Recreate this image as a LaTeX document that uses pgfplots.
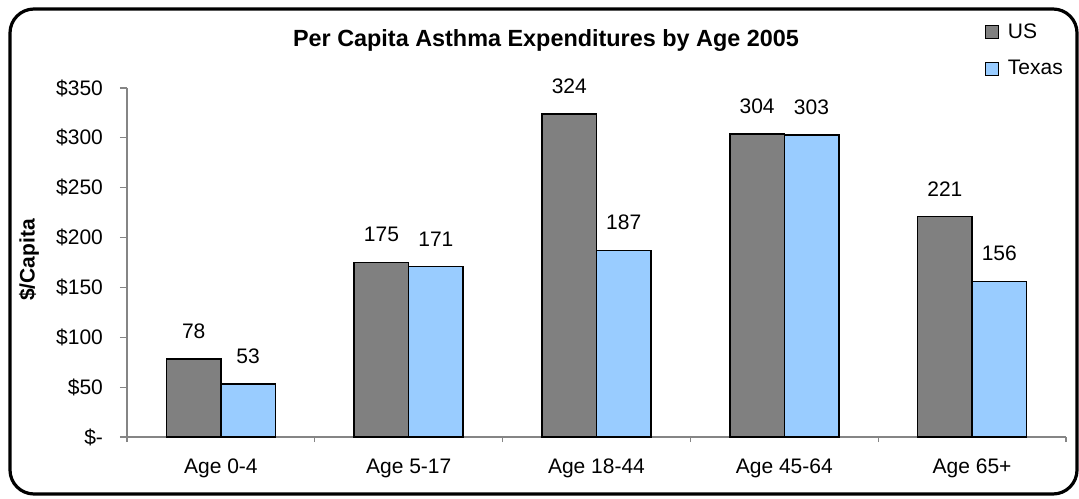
\documentclass[border=0pt]{standalone}
\usepackage{pgfplots}
\pgfplotsset{compat=1.18}
\usepackage{fontspec}
\setmainfont{Liberation Sans}

\definecolor{usgray}{HTML}{808080}
\definecolor{txblue}{HTML}{99CCFF}
\definecolor{axgray}{HTML}{858585}

\pgfplotstableread{
x us tx
0 78 53
1 175 171
2 324 187
3 304 303
4 221 156
}\expdata

\begin{document}
\begin{tikzpicture}
\useasboundingbox (-63.5pt,-30.5pt) rectangle (476pt,218.5pt);
\draw[line width=1.6pt, rounded corners=12pt] (-58.5pt,-28.5pt) rectangle (475pt,214pt);
\begin{axis}[
    at={(0pt,0pt)}, anchor=south west,
    scale only axis,
    width=469.5pt, height=174.5pt,
    xmin=-0.5, xmax=4.5,
    ymin=0, ymax=350,
    axis x line*=bottom,
    axis y line*=left,
    axis line style={draw=axgray, line width=0.6pt},
    tick style={draw=axgray, line width=0.6pt},
    tick align=outside,
    major tick length=3.5pt,
    minor tick length=2.5pt,
    xtick={0,1,2,3,4},
    xticklabels={Age 0-4, Age 5-17, Age 18-44, Age 45-64, Age 65+},
    minor xtick={-0.5,0.5,1.5,2.5,3.5,4.5},
    major x tick style={draw=none},
    ytick={0,50,...,350},
    yticklabels={\$-,\$50,\$100,\$150,\$200,\$250,\$300,\$350},
    /pgf/number format/assume math mode=true,
    ticklabel style={font=\fontsize{10.5}{12}\selectfont},
    xticklabel style={yshift=-4pt},
    yticklabel style={xshift=-5pt},
    ylabel={\$/Capita},
    ylabel style={at={(axis description cs:-0.1044,0.507)}, anchor=center,
        font=\fontsize{10.5}{12}\selectfont\bfseries},
    every node near coord/.append style={font=\fontsize{10.5}{12}\selectfont, yshift=6.5pt, color=black},
    legend style={draw=none, fill=none, at={(axis description cs:0.913,1.195)},
        anchor=north west, row sep=6.5pt, inner sep=0pt,
        font=\fontsize{10.5}{12}\selectfont,
        nodes={inner sep=1.5pt}},
    legend cell align=left,
]
\addplot[ybar, bar width=0.29, bar shift=-0.145, fill=usgray, draw=black, line width=0.75pt,
    nodes near coords,
    every node near coord/.append style={xshift=-13.6pt},
    legend image code/.code={\draw[fill=usgray, draw=black, line width=0.5pt] (0pt,-3.25pt) rectangle (6.5pt,3.25pt); \path (9.5pt,0pt);}]
    table[x=x, y=us] {\expdata};
\addlegendentry{US}
\addplot[ybar, bar width=0.29, bar shift=0.145, fill=txblue, draw=black, line width=0.75pt,
    nodes near coords,
    every node near coord/.append style={xshift=13.6pt},
    legend image code/.code={\draw[fill=txblue, draw=black, line width=0.5pt] (0pt,-3.25pt) rectangle (6.5pt,3.25pt); \path (9.5pt,0pt);}]
    table[x=x, y=tx] {\expdata};
\addlegendentry{Texas}
\end{axis}
\node[font=\fontsize{11.7}{14}\selectfont\bfseries, anchor=center] at (209.5pt,198pt)
    {Per Capita Asthma Expenditures by Age 2005};
\end{tikzpicture}
\end{document}
